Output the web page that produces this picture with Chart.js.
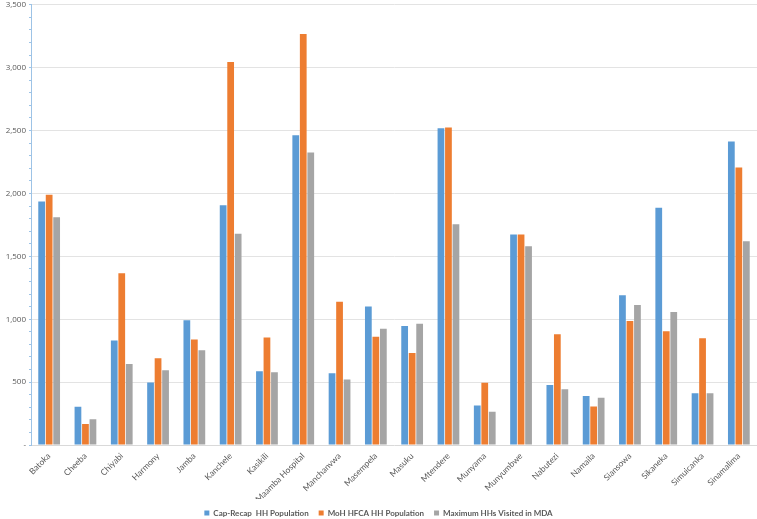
<!DOCTYPE html>
<html>
<head>
<meta charset="utf-8">
<script src="https://cdn.jsdelivr.net/npm/chart.js@4"></script>
<style>
  html, body { margin: 0; padding: 0; background: #fff; overflow: hidden; }
  #wrap { width: 757px; height: 522px; margin-top: -3px; }
</style>
</head>
<body>
<div id="wrap"><canvas id="chart"></canvas></div>
<script>
'use strict';

const facilities = ['Batoka', 'Cheeba', 'Chiyabi', 'Harmony', 'Jamba', 'Kanchele', 'Kasikili',
  'Maamba Hospital', 'Manchanvwa', 'Masempela', 'Masuku', 'Mtendere', 'Munyama', 'Munyumbwe',
  'Nabutezi', 'Namaila', 'Siansowa', 'Sikaneka', 'Simuicanka', 'Sinamalima'];

const capRecap = [1937, 304, 831, 497, 992, 1907, 587, 2463, 571, 1102, 946, 2519, 314, 1673,
  478, 389, 1190, 1887, 412, 2413];
const mohHfca = [1990, 167, 1365, 690, 839, 3045, 855, 3267, 1139, 861, 732, 2524, 494, 1673,
  880, 306, 986, 904, 849, 2207];
const maxVisited = [1810, 204, 645, 595, 754, 1680, 579, 2326, 520, 925, 964, 1755, 264, 1580,
  444, 375, 1113, 1057, 412, 1620];

const yMax = 3500;
const yStep = 500;

let canvasElem = document.getElementById('chart');

function makeSet(label, data, color) {
  return {
    label: label,
    data: data,
    backgroundColor: color,
    borderWidth: 0,
    barPercentage: 0.9,
    categoryPercentage: 0.62
  };
}

let chartObj = {
  type: 'bar',
  data: {
    labels: facilities,
    datasets: [
      makeSet('Cap-Recap  HH Population', capRecap, '#5B9BD5'),
      makeSet('MoH HFCA HH Population', mohHfca, '#ED7D31'),
      makeSet('Maximum HHs Visited in MDA', maxVisited, '#A5A5A5')
    ]
  },
  options: {
    responsive: true,
    maintainAspectRatio: false,
    animation: false,
    layout: { padding: { top: 0, right: 0, left: 0, bottom: -8 } },
    plugins: {
      tooltip: { enabled: false },
      legend: {
        position: 'bottom',
        labels: {
          boxWidth: 5,
          boxHeight: 5,
          padding: 10,
          color: '#595959',
          font: { family: 'Lato', size: 8, weight: 'bold' }
        }
      }
    },
    scales: {
      x: {
        grid: { display: false, drawTicks: false },
        border: { color: '#d9d9d9' },
        ticks: {
          color: '#595959',
          maxRotation: 45,
          minRotation: 45,
          autoSkip: false,
          padding: 6,
          font: { family: 'Lato', size: 8.5 }
        },
        afterFit: function (scale) { scale.height = 54; }
      },
      y: {
        min: 0,
        max: yMax,
        border: { color: '#9DC3E6' },
        grid: {
          color: function (ctx) {
            return ctx.tick && ctx.tick.value % yStep === 0 && ctx.tick.value > 0 ? '#e3e3e3' : 'rgba(0,0,0,0)';
          },
          tickColor: '#9DC3E6',
          tickLength: 2
        },
        ticks: {
          stepSize: 100,
          autoSkip: false,
          color: '#595959',
          padding: 3,
          font: { family: 'Open Sans', size: 8 },
          callback: function (v) {
            if (v % yStep !== 0) return '';
            return v === 0 ? '-' : v.toLocaleString('en-US');
          }
        },
        afterFit: function (scale) { scale.width = 31; }
      }
    }
  }
};

new Chart(canvasElem, chartObj);
</script>
</body>
</html>
